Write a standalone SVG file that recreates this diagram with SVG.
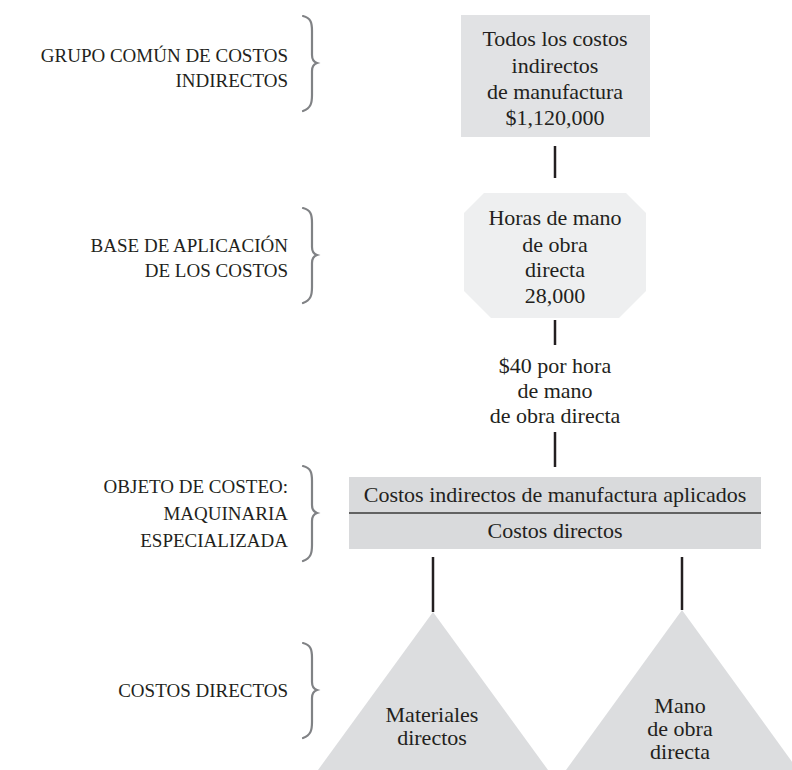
<svg xmlns="http://www.w3.org/2000/svg" xmlns:xlink="http://www.w3.org/1999/xlink" width="792" height="770" viewBox="0 0 792 770">
<style>
  text{font-family:'Liberation Serif','DejaVu Serif',serif;fill:#231f20;}
  .body{font-size:22px;text-anchor:middle;}
  .cap{font-size:19px;text-anchor:end;}
  .conn{stroke:#231f20;stroke-width:2.5;fill:none;}
  .brace{stroke:#808285;stroke-width:2.2;fill:none;stroke-linecap:round;}
</style>
<defs>
  <path id="brace" d="M-14,-47 C-6,-45 -5,-40 -5,-32 L-5,-8 C-5,-3 -3,-1 0,0 C-3,1 -5,3 -5,8 L-5,32 C-5,40 -6,45 -14,48"/>
</defs>
<rect width="792" height="770" fill="#ffffff"/>

<g id="labels" font-family="Liberation Serif, serif">
  <use xlink:href="#brace" class="brace" transform="translate(317,63)"/>
  <text class="cap" x="288" y="62">GRUPO COMÚN DE COSTOS</text>
  <text class="cap" x="288" y="87">INDIRECTOS</text>
  <use xlink:href="#brace" class="brace" transform="translate(317,255)"/>
  <text class="cap" x="288" y="252">BASE DE APLICACIÓN</text>
  <text class="cap" x="288" y="277">DE LOS COSTOS</text>
  <use xlink:href="#brace" class="brace" transform="translate(317,513)"/>
  <text class="cap" x="288" y="493">OBJETO DE COSTEO:</text>
  <text class="cap" x="288" y="520">MAQUINARIA</text>
  <text class="cap" x="288" y="547">ESPECIALIZADA</text>
  <use xlink:href="#brace" class="brace" transform="translate(317,690)"/>
  <text class="cap" x="288" y="697">COSTOS DIRECTOS</text>
</g>

<g id="connectors">
  <line class="conn" x1="555" y1="146" x2="555" y2="178"/>
  <line class="conn" x1="555" y1="320" x2="555" y2="345"/>
  <line class="conn" x1="555" y1="432" x2="555" y2="467"/>
  <line class="conn" x1="433" y1="557" x2="433" y2="612"/>
  <line class="conn" x1="682" y1="557" x2="682" y2="610"/>
</g>

<g id="pool" font-family="Liberation Serif, serif">
  <rect x="461" y="15" width="189" height="122" fill="#e1e2e4"/>
  <text class="body" x="555" y="46">Todos los costos</text>
  <text class="body" x="555" y="72.5">indirectos</text>
  <text class="body" x="555" y="99">de manufactura</text>
  <text class="body" x="555" y="125">$1,120,000</text>
</g>

<g id="base" font-family="Liberation Serif, serif">
  <polygon points="484,193 626,193 646,213 646,291 619,318 491,318 464,291 464,213" fill="#eeeff0"/>
  <text class="body" x="555" y="225">Horas de mano</text>
  <text class="body" x="555" y="252">de obra</text>
  <text class="body" x="555" y="277">directa</text>
  <text class="body" x="555" y="303">28,000</text>
</g>

<g id="rate" font-family="Liberation Serif, serif">
  <text class="body" x="555" y="373">$40 por hora</text>
  <text class="body" x="555" y="398">de mano</text>
  <text class="body" x="555" y="423">de obra directa</text>
</g>

<g id="costobject" font-family="Liberation Serif, serif">
  <rect x="349" y="477" width="412" height="72" fill="#d9dadc"/>
  <line x1="349" y1="513" x2="761" y2="513" stroke="#3a3a3a" stroke-width="1.5"/>
  <text class="body" x="555" y="502">Costos indirectos de manufactura aplicados</text>
  <text class="body" x="555" y="538">Costos directos</text>
</g>

<g id="materiales" font-family="Liberation Serif, serif">
  <polygon points="433,612 548,770 318,770" fill="#dcdddf"/>
  <text class="body" x="432" y="722">Materiales</text>
  <text class="body" x="432" y="745">directos</text>
</g>

<g id="manoobra" font-family="Liberation Serif, serif">
  <polygon points="682,610 798,770 566,770" fill="#dcdddf"/>
  <text class="body" x="680" y="713">Mano</text>
  <text class="body" x="680" y="736">de obra</text>
  <text class="body" x="680" y="759">directa</text>
</g>
</svg>
